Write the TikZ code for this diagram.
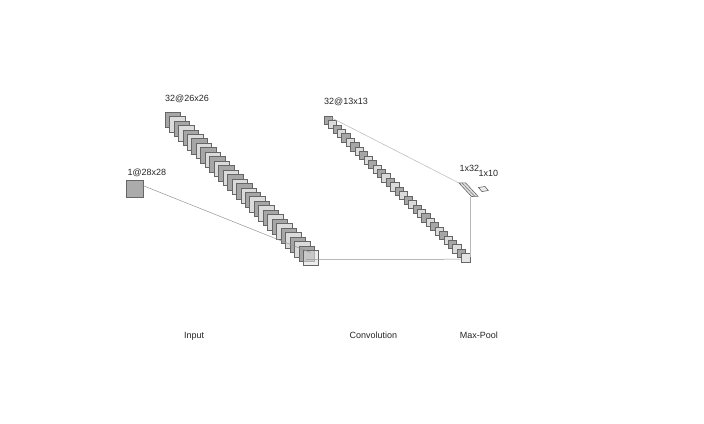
\documentclass[tikz,border=0pt]{standalone}
\usepackage{fontspec}
\setmainfont{Liberation Sans}
\begin{document}
\begin{tikzpicture}[x=1pt,y=-1pt,
  sqbig/.style={draw=black!60,line width=0.6pt,minimum size=15.5pt,inner sep=0pt,outer sep=0pt},
  sqin/.style={draw=black!60,line width=0.6pt,minimum size=16.5pt,inner sep=0pt,outer sep=0pt,fill=black!33},
  sqsmall/.style={draw=black!60,line width=0.6pt,minimum size=8.2pt,inner sep=0pt,outer sep=0pt},
  darkf/.style={fill=black!35},
  lightf/.style={fill=black!14},
  conn/.style={draw=black!42,line width=0.5pt},
  connlight/.style={draw=black!28,line width=0.5pt},
  lbl/.style={font=\fontsize{9}{10}\selectfont,text=black!85,inner sep=0pt,anchor=base west},
  lblc/.style={font=\fontsize{9}{10}\selectfont,text=black!85,inner sep=0pt,anchor=base},
  dense/.style={draw=black!60,line width=0.6pt,fill=black!12}
]
\useasboundingbox[fill=white] (0,0) rectangle (704,423);

% input
\node[sqin] (in) at (135,189) {};

% first stack (32@26x26)
\foreach \i in {0,...,31}{
  \pgfmathsetmacro{\xx}{172.75+4.46*\i}
  \pgfmathsetmacro{\yy}{119.75+4.46*\i}
  \pgfmathtruncatemacro{\parity}{mod(\i,2)}
  \ifnum\i=31
    \node[sqbig,fill=black!12,fill opacity=0.6] (a\i) at (\xx,\yy) {};
  \else
    \ifnum\parity=0
      \node[sqbig,darkf] (a\i) at (\xx,\yy) {};
    \else
      \node[sqbig,lightf] (a\i) at (\xx,\yy) {};
    \fi
  \fi
}

% second stack (32@13x13)
\foreach \i in {0,...,31}{
  \pgfmathsetmacro{\xx}{328.1+4.44*\i}
  \pgfmathsetmacro{\yy}{120.1+4.44*\i}
  \pgfmathtruncatemacro{\parity}{mod(\i,2)}
  \ifnum\i=31
    \node[sqsmall,fill=black!10] (b\i) at (\xx,\yy) {};
  \else
    \ifnum\parity=0
      \node[sqsmall,darkf] (b\i) at (\xx,\yy) {};
    \else
      \node[sqsmall,lightf] (b\i) at (\xx,\yy) {};
    \fi
  \fi
}

% dense layers
\coordinate (d1a) at (459,183);
\coordinate (d1b) at (465.5,182.8);
\coordinate (d1c) at (478,196.3);
\coordinate (d1d) at (471.5,196.5);
\draw[dense] (d1a) -- (d1b) -- (d1c) -- (d1d) -- cycle;
\draw[draw=black!55,line width=0.5pt] (462,183) -- (474.8,196.4);
\coordinate (d2a) at (478.5,187.5);
\coordinate (d2b) at (485,186.5);
\coordinate (d2c) at (488.2,190.5);
\coordinate (d2d) at (482,191.6);
\draw[dense,fill=black!8] (d2a) -- (d2b) -- (d2c) -- (d2d) -- cycle;

% connection points
\coordinate (pin) at (141.5,185);
\coordinate (pa) at (310.5,252.5);
\coordinate (pah) at (306,259.6);
\coordinate (pbh) at (462,259.2);
\coordinate (pbt) at (331,117.5);
\coordinate (pbv) at (470.5,256.5);
\coordinate (pdv) at (470.5,196.5);

\draw[conn] (pin) -- (pa);
\draw[conn] (pah) -- (pbh);
\draw[connlight] (pbt) -- (d1a);
\draw[connlight] (pbv) -- (pdv);

% labels
\node[lbl] (l1) at (127.3,175) {1@28x28};
\node[lbl] (l2) at (165,101.6) {32@26x26};
\node[lbl] (l3) at (324,104.8) {32@13x13};
\node[lbl] (l4) at (459.5,171.6) {1x32};
\node[lbl] (l5) at (478.3,176) {1x10};
\node[lblc] (t1) at (194.2,338.4) {Input};
\node[lblc] (t2) at (373.3,338.4) {Convolution};
\node[lblc] (t3) at (478.8,338.4) {Max-Pool};
\end{tikzpicture}
\end{document}
